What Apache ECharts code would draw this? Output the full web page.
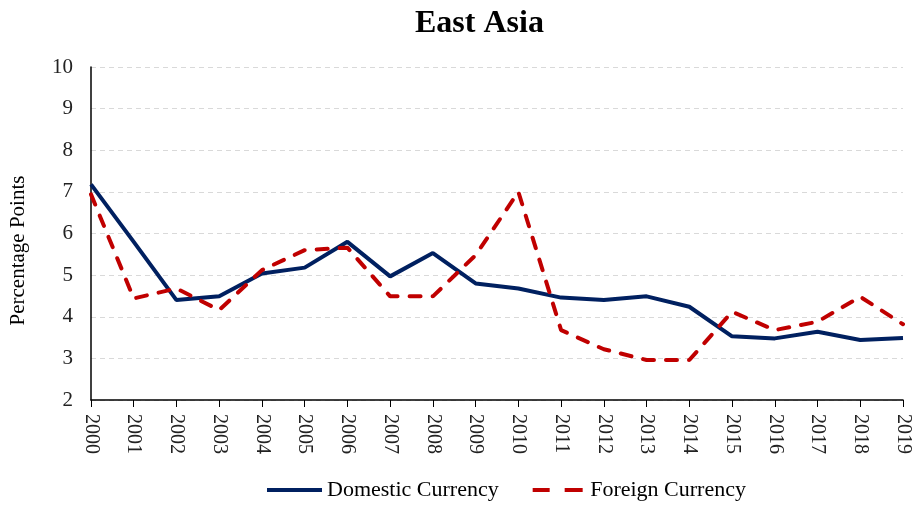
<!DOCTYPE html>
<html>
<head>
<meta charset="utf-8">
<script src="https://cdn.jsdelivr.net/npm/echarts@6/dist/echarts.min.js"></script>
<style>
  html, body { margin: 0; padding: 0; background: #fff; }
  #chart { width: 913px; height: 505px; }
</style>
</head>
<body>
<div id="chart"></div>
<script>
  // data
  var years = ['2000', '2001', '2002', '2003', '2004', '2005', '2006', '2007', '2008', '2009',
               '2010', '2011', '2012', '2013', '2014', '2015', '2016', '2017', '2018', '2019'];
  var domestic = [7.18, 5.8, 4.4, 4.49, 5.04, 5.18, 5.8, 4.97, 5.53, 4.8,
                  4.68, 4.46, 4.4, 4.49, 4.24, 3.53, 3.48, 3.64, 3.44, 3.49];
  var foreign = [6.94, 4.44, 4.68, 4.16, 5.12, 5.6, 5.66, 4.49, 4.49, 5.48,
                 7.0, 3.68, 3.22, 2.96, 2.96, 4.12, 3.68, 3.88, 4.48, 3.82];

  var font = 'Liberation Serif';
  // legend icons: solid bar / two dashes
  var solidIcon = 'path://M0,0 L55,0 L55,4 L0,4 Z';
  var dashIcon = 'path://M0,0 L17,0 L17,4 L0,4 Z M32,0 L50,0 L50,4 L32,4 Z';

  var chart = echarts.init(document.getElementById('chart'));
  chart.setOption({
    animation: false,
    title: {
      text: 'East Asia',
      left: 410,
      top: 3,
      textStyle: { fontFamily: font, fontSize: 32, fontWeight: 'bold', color: '#000' }
    },
    legend: {
      top: 474,
      left: 262,
      itemHeight: 4,
      itemGap: 34,
      textStyle: { fontFamily: font, fontSize: 22, color: '#000' },
      data: [
        { name: 'Domestic Currency', icon: solidIcon, itemWidth: 55 },
        { name: 'Foreign Currency', icon: dashIcon }
      ],
      itemWidth: 55
    },
    grid: {
      left: 91,
      right: 10,
      top: 67,
      bottom: 105
    },
    xAxis: {
      type: 'category',
      data: years,
      boundaryGap: false,
      axisLine: { lineStyle: { color: '#000', width: 1.5 } },
      axisTick: { show: true, length: 7, alignWithLabel: true, lineStyle: { color: '#000' } },
      axisLabel: {
        rotate: -90,
        interval: 0,
        margin: 14,
        fontFamily: font,
        fontSize: 20,
        color: '#222'
      }
    },
    yAxis: {
      type: 'value',
      min: 2,
      max: 10,
      interval: 1,
      name: 'Percentage Points',
      nameLocation: 'middle',
      nameGap: 62,
      nameTextStyle: { fontFamily: font, fontSize: 21, color: '#000', padding: [0, 34, 0, 0] },
      axisLine: { show: true, lineStyle: { color: '#000', width: 1.5 } },
      axisTick: { show: false },
      axisLabel: { margin: 18, fontFamily: font, fontSize: 21, color: '#222' },
      splitLine: { lineStyle: { color: '#d9d9d9', type: [5, 4], width: 1 } }
    },
    series: [
      {
        name: 'Domestic Currency',
        type: 'line',
        data: domestic,
        symbol: 'none',
        color: '#002060',
        lineStyle: { color: '#002060', width: 4 }
      },
      {
        name: 'Foreign Currency',
        type: 'line',
        data: foreign,
        symbol: 'none',
        color: '#c00000',
        lineStyle: { color: '#c00000', width: 4, type: [11, 12], cap: 'round' }
      }
    ]
  });
</script>
</body>
</html>
